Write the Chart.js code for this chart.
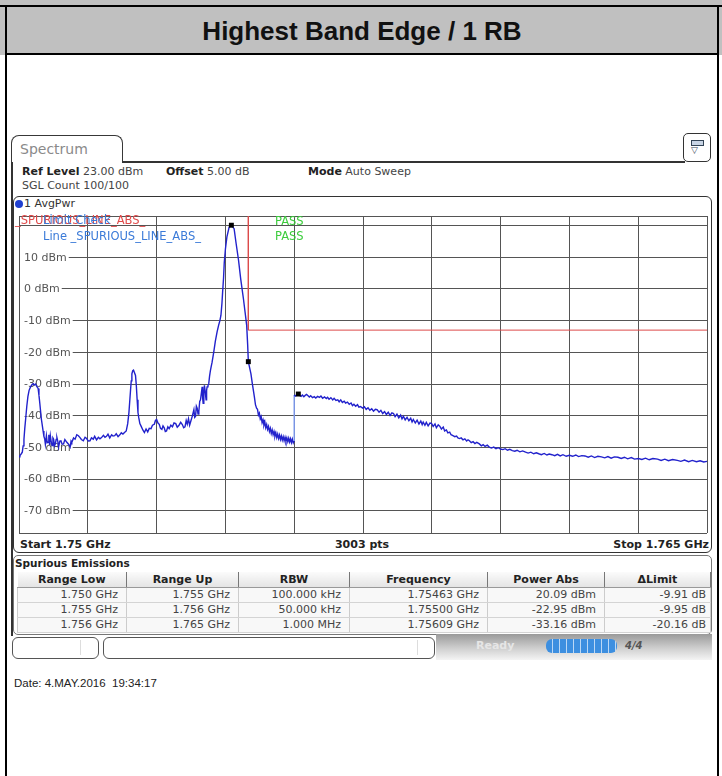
<!DOCTYPE html>
<html>
<head>
<meta charset="utf-8">
<script src="https://cdn.jsdelivr.net/npm/chart.js@4"></script>
<style>
body { margin: 0; width: 722px; height: 776px; position: relative; overflow: hidden; background: #fff; font-family: "DejaVu Sans", sans-serif; }
.a { position: absolute; }
.blk { position: absolute; background: #000; }
.t11 { font-size: 11px; line-height: 14px; white-space: nowrap; }
.b { font-weight: bold; color: #222; }
.r { color: #444; }
#spur { position: absolute; left: 17px; top: 572px; border-collapse: collapse; table-layout: fixed; font-size: 11px; }
#spur th { height: 15px; padding: 0; font-weight: bold; color: #222; background: linear-gradient(#fbfbfb, #e4e4e4); border-right: 1px solid #777; border-bottom: 1px solid #999; line-height: 14px; }
#spur td { height: 14px; padding: 0 8px 0 0; text-align: right; color: #444; background: #f8f8f8; border-right: 1px solid #ccc; border-bottom: 1px solid #d4d4d4; line-height: 14px; white-space: nowrap; }
#spur td:first-child { border-left: 1px solid #ccc; }
.box { position: absolute; border: 1px solid #555; border-radius: 6px; background: #fff; }
</style>
</head>
<body>
<!-- table cell around the screenshot -->
<div class="a" style="left:0;top:0;width:722px;height:55px;background:#c0c0c0"></div>
<div class="blk" style="left:0;top:5px;width:722px;height:2px"></div>
<div class="blk" style="left:5px;top:53px;width:714px;height:2px"></div>
<div class="a" style="left:5px;top:55px;width:712px;height:721px;background:#fff"></div>
<div class="blk" style="left:5px;top:5px;width:2px;height:771px"></div>
<div class="blk" style="left:717px;top:5px;width:2px;height:771px"></div>
<div class="a" style="left:7px;top:16px;width:710px;text-align:center;font:bold 26px/30px 'Liberation Sans',Arial,sans-serif;color:#111">Highest Band Edge / 1 RB</div>

<!-- analyzer window -->
<div class="a" style="left:11px;top:135px;width:110px;height:27px;border:1.5px solid #383838;border-bottom:none;border-radius:8px 8px 0 0"></div>
<div class="a" style="left:20px;top:141px;font-size:14px;line-height:16px;color:#8a8a8a">Spectrum</div>
<div class="a" style="left:122px;top:161px;width:563px;height:1.5px;background:#333"></div>
<div class="a" style="left:11px;top:162px;width:1.5px;height:474px;background:#333"></div>
<div class="a" style="left:683px;top:133px;width:26px;height:27px;border:1.5px solid #333;border-radius:5px;background:#fff"></div>
<div class="a" style="left:691px;top:140px;width:11px;height:4px;border:1px solid #345;background:#c8d4e4"></div>
<div class="a" style="left:691px;top:145px;font-size:9px;line-height:10px;color:#345">&#9661;</div>

<div class="a t11" style="left:22px;top:165px"><span class="b">Ref Level</span> <span class="r">23.00 dBm</span></div>
<div class="a t11" style="left:166px;top:165px"><span class="b">Offset</span> <span class="r">5.00 dB</span></div>
<div class="a t11" style="left:308px;top:165px"><span class="b">Mode</span> <span class="r">Auto Sweep</span></div>
<div class="a t11 r" style="left:22px;top:179px">SGL Count 100/100</div>

<div class="a" style="left:13px;top:196px;width:697px;height:355px;border:1.5px solid #333;border-radius:6px;background:#fff"></div>
<div class="a" style="left:15px;top:200px;width:8px;height:8px;border-radius:50%;background:#1f3fd0"></div>
<div class="a t11" style="left:24px;top:197px;color:#333">1 AvgPwr</div>

<canvas id="plot" class="a" style="left:15px;top:212px" width="696" height="325"></canvas>

<div class="a" style="left:15px;top:213px;font-size:11.5px;line-height:14px;color:#e04a4a;white-space:nowrap">_SPURIOUS_LINE_ABS_</div>
<div class="a" style="left:43px;top:213px;font-size:11.5px;line-height:14px;color:#3a7ad8;white-space:nowrap">Limit Check</div>
<div class="a" style="left:43px;top:229px;font-size:11.5px;line-height:14px;color:#3a7ad8;white-space:nowrap">Line _SPURIOUS_LINE_ABS_</div>
<div class="a" style="left:275px;top:214px;font-size:11.5px;line-height:14px;color:#3ccc3c">PASS</div>
<div class="a" style="left:275px;top:229px;font-size:11.5px;line-height:14px;color:#3ccc3c">PASS</div>

<div class="a t11 b" style="left:20px;top:538px">Start 1.75 GHz</div>
<div class="a t11 b" style="left:262px;top:538px;width:200px;text-align:center">3003 pts</div>
<div class="a t11 b" style="left:509px;top:538px;width:200px;text-align:right">Stop 1.765 GHz</div>

<div class="a" style="left:13px;top:555px;width:697px;height:78px;border:1px solid #777;border-radius:5px;background:#fff"></div>
<div class="a t11 b" style="left:15px;top:556px;font-size:10.5px">Spurious Emissions</div>
<table id="spur"></table>

<!-- status bar -->
<div class="a" style="left:436px;top:634px;width:276px;height:26px;background:linear-gradient(#9a9a9a,#cfcfcf 55%,#f4f4f4)"></div>
<div class="box" style="left:12px;top:637px;width:85px;height:20px"></div>
<div class="a" style="left:80px;top:640px;width:1px;height:15px;background:#ddd"></div>
<div class="box" style="left:103px;top:637px;width:330px;height:20px"></div>
<div class="a" style="left:417px;top:640px;width:1px;height:15px;background:#ddd"></div>
<div class="a t11" style="left:476px;top:639px;color:#e6e6e6;font-weight:bold">Ready</div>
<div class="a" style="left:546px;top:639px;width:71px;height:14px;border-radius:6px;background:repeating-linear-gradient(90deg,#3d8fe0 0 6px,#bcd8f5 6px 7px)"></div>
<div class="a" style="left:625px;top:639px;font:bold italic 10px/14px 'DejaVu Sans';color:#555">4/4</div>

<div class="a" style="left:14px;top:676px;font:11.5px/14px 'Liberation Sans',Arial,sans-serif;color:#222;white-space:pre">Date: 4.MAY.2016  19:34:17</div>

<script>
var startGHz = 1.75;
var stopGHz = 1.765;
var refLevel = 23;
var bottomLevel = -77;
var gridFreqGHz = [1.75, 1.7515, 1.753, 1.7545, 1.756, 1.7575, 1.759, 1.7605, 1.762, 1.7635, 1.765];
var gridLevels = [23, 20, 10, 0, -10, -20, -30, -40, -50, -60, -70, -77];
var yLabelLevels = [10, 0, -10, -20, -30, -40, -50, -60, -70];
var yLabels = ['10 dBm', '0 dBm', '-10 dBm', '-20 dBm', '-30 dBm', '-40 dBm', '-50 dBm', '-60 dBm', '-70 dBm'];

// trace, offset from start in MHz / level in dBm
var traceOffsetMHz = [
  0.00, 0.02, 0.05, 0.072, 0.09, 0.108, 0.126, 0.144, 0.17, 0.194,
  0.22, 0.252, 0.28, 0.309, 0.335, 0.36, 0.39, 0.417, 0.435, 0.453,
  0.47, 0.489, 0.507, 0.525, 0.543, 0.561, 0.575, 0.597, 0.615, 0.633,
  0.65, 0.665, 0.683, 0.70, 0.72, 0.74, 0.755, 0.773, 0.791, 0.81,
  0.827, 0.845, 0.863, 0.89, 0.914, 0.94, 0.971, 1.00, 1.043, 1.08,
  1.115, 1.135, 1.151, 1.19, 1.223, 1.26, 1.295, 1.331, 1.36, 1.403,
  1.44, 1.475, 1.51, 1.547, 1.58, 1.619, 1.65, 1.691, 1.73, 1.765,
  1.799, 1.84, 1.875, 1.907, 1.94, 1.979, 2.02, 2.05, 2.086, 2.12,
  2.16, 2.194, 2.23, 2.266, 2.30, 2.338, 2.37, 2.396, 2.414, 2.432,
  2.447, 2.461, 2.48, 2.497, 2.52, 2.54, 2.558, 2.576, 2.594, 2.612,
  2.635, 2.662, 2.70, 2.734, 2.77, 2.806, 2.84, 2.878, 2.91, 2.95,
  2.975, 3.0, 3.03, 3.058, 3.085, 3.115, 3.14, 3.166, 3.19, 3.216,
  3.245, 3.274, 3.31, 3.346, 3.38, 3.417, 3.45, 3.489, 3.525, 3.561,
  3.59, 3.619, 3.645, 3.669, 3.695, 3.72, 3.75, 3.777, 3.813, 3.83,
  3.849, 3.867, 3.885, 3.903, 3.921, 3.94, 3.957, 3.975, 3.993, 4.004,
  4.015, 4.03, 4.043, 4.06, 4.079, 4.09, 4.101, 4.12, 4.137, 4.155,
  4.173, 4.19, 4.209, 4.245, 4.281, 4.32, 4.353, 4.38, 4.403, 4.425,
  4.439, 4.46, 4.475, 4.50, 4.533, 4.582, 4.63, 4.69, 4.733, 4.785,
  4.835, 4.893, 4.928, 4.964, 4.985, 5.0, 5.03, 5.057, 5.087, 5.11,
  5.131, 5.155, 5.18,
  5.20, 5.22, 5.24, 5.26, 5.28, 5.30, 5.32, 5.34, 5.36, 5.38,
  5.40, 5.42, 5.44, 5.46, 5.48, 5.50, 5.52, 5.54, 5.56, 5.58,
  5.60, 5.62, 5.64, 5.66, 5.68, 5.70, 5.72, 5.74, 5.76, 5.78,
  5.80, 5.82, 5.84, 5.86, 5.88, 5.90, 5.92, 5.94, 5.96, 5.98,
  6.0, 6.0, 6.03, 6.06, 6.09, 6.12, 6.151,
  6.18, 6.21, 6.24, 6.27, 6.296, 6.33, 6.36, 6.40, 6.439, 6.47,
  6.51, 6.55, 6.583, 6.62, 6.66, 6.70, 6.728, 6.76, 6.80, 6.84,
  6.87, 6.91, 6.95, 6.98, 7.015, 7.05, 7.09, 7.12, 7.16, 7.20,
  7.24, 7.27, 7.302, 7.34, 7.38, 7.41, 7.447, 7.49, 7.53, 7.57,
  7.61, 7.65, 7.69, 7.73, 7.77, 7.807, 7.85, 7.89, 7.93, 7.97,
  8.01, 8.05, 8.09, 8.13, 8.165, 8.20, 8.24, 8.28, 8.32, 8.35,
  8.381, 8.42, 8.46, 8.50, 8.54, 8.57, 8.597, 8.64, 8.68, 8.72,
  8.76, 8.79, 8.813, 8.85, 8.88, 8.92, 8.96, 8.994, 9.03, 9.07,
  9.10, 9.14, 9.173, 9.21, 9.25, 9.28, 9.318, 9.35, 9.39, 9.42,
  9.461, 9.50, 9.54, 9.57, 9.605, 9.64, 9.68, 9.72, 9.76, 9.79,
  9.821, 9.86, 9.90, 9.94, 9.98, 10.037, 10.08, 10.12, 10.16, 10.21,
  10.253, 10.30, 10.35, 10.40, 10.45, 10.497, 10.55, 10.60, 10.65, 10.70,
  10.756, 10.81, 10.86, 10.92, 10.98, 11.045, 11.10, 11.16, 11.22, 11.28,
  11.332, 11.39, 11.45, 11.51, 11.56, 11.619, 11.68, 11.74, 11.80, 11.86,
  11.93, 12.001, 12.07, 12.14, 12.20, 12.27, 12.34, 12.41, 12.48, 12.55,
  12.62, 12.698, 12.77, 12.84, 12.91, 12.98, 13.058, 13.13, 13.20, 13.27,
  13.35, 13.42, 13.505, 13.58, 13.66, 13.74, 13.82, 13.922, 14.00, 14.08,
  14.16, 14.25, 14.353, 14.43, 14.51, 14.60, 14.68, 14.77, 14.85, 14.93,
  15.0
];
var traceLevel = [
  -53.0, -52.6, -52.0, -51.5, -49.5, -47.4, -44.0, -41.2, -37.0, -34.0,
  -32.0, -30.9, -30.2, -29.9, -30.3, -30.0, -30.8, -31.4, -33.5, -36.0,
  -38.5, -41.2, -43.0, -44.8, -46.5, -47.4, -49.0, -46.3, -48.5, -48.4,
  -46.0, -49.2, -46.3, -48.0, -49.4, -47.0, -47.4, -49.5, -48.9, -47.5,
  -46.9, -48.0, -49.9, -48.0, -47.9, -49.0, -48.9, -47.5, -48.4, -49.0,
  -49.9, -48.0, -48.4, -47.0, -47.4, -46.0, -46.3, -46.9, -47.5, -47.9,
  -46.8, -47.2, -48.0, -47.9, -47.0, -47.4, -46.5, -47.6, -46.8, -47.3,
  -46.9, -46.2, -46.8, -46.5, -45.8, -47.0, -46.0, -46.4, -46.3, -45.7,
  -46.6, -46.1, -45.4, -45.8, -45.3, -44.8, -42.5, -39.1, -35.5, -31.9,
  -29.0, -26.8, -25.8, -25.6, -26.5, -27.3, -30.5, -35.0, -39.0, -40.7,
  -42.5, -43.3, -44.5, -45.3, -44.2, -45.1, -44.0, -44.1, -43.0, -42.7,
  -41.5, -41.2, -42.3, -42.7, -44.0, -44.3, -43.2, -43.8, -45.0, -44.8,
  -43.5, -44.1, -43.0, -43.5, -42.3, -42.5, -43.6, -43.0, -42.1, -42.8,
  -43.8, -43.5, -41.5, -42.7, -41.0, -43.0, -41.5, -40.2, -38.1, -40.5,
  -40.2, -37.0, -37.6, -39.5, -38.6, -35.5, -35.0, -33.0, -30.9, -34.5,
  -36.1, -33.0, -30.4, -32.5, -35.0, -32.0, -30.9, -30.5, -29.9, -27.5,
  -25.8, -24.5, -23.2, -20.0, -16.5, -13.5, -11.4, -10.0, -8.3, -4.5,
  -1.1, 3.5, 8.2, 12.5, 16.4, 19.5, 20.09, 19.0, 14.4, 9.2,
  3.0, -3.1, -7.2, -11.5, -17.5, -22.95, -25.0, -26.8, -29.9, -32.0,
  -34.0, -36.5, -37.6,
  -38.0, -39.8, -39.2, -41.0, -40.3, -42.2, -41.3, -43.0, -42.0, -43.8,
  -42.8, -44.3, -43.4, -45.0, -44.0, -45.6, -44.5, -46.0, -45.0, -46.5,
  -45.4, -46.9, -45.8, -47.2, -46.1, -47.5, -46.4, -47.7, -46.6, -47.9,
  -46.8, -48.1, -47.0, -48.2, -47.1, -48.3, -47.3, -48.5, -47.4, -48.6,
  -48.0, -33.5, -33.8, -33.3, -33.16, -33.6, -33.9,
  -33.5, -34.0, -33.6, -33.3, -33.6, -34.1, -33.7, -34.3, -34.0, -34.4,
  -33.9, -34.2, -33.8, -34.5, -34.1, -34.6, -34.2, -34.8, -34.3, -35.0,
  -34.5, -35.2, -35.0, -35.6, -35.0, -35.8, -35.4, -36.0, -35.7, -36.4,
  -36.0, -36.8, -36.4, -37.0, -36.5, -37.3, -37.1, -37.6, -37.2, -38.0,
  -37.5, -38.3, -37.8, -38.6, -38.0, -38.1, -38.9, -38.3, -39.3, -38.7,
  -39.6, -38.9, -39.9, -39.1, -39.3, -40.3, -39.5, -40.7, -39.8, -41.0,
  -40.2, -41.3, -40.5, -41.6, -40.8, -42.0, -41.2, -42.3, -41.4, -42.6,
  -41.7, -42.8, -42.0, -43.0, -42.1, -43.2, -42.3, -42.4, -43.4, -42.6,
  -43.8, -42.9, -43.3, -44.2, -43.6, -44.8, -44.5, -45.4, -45.2, -46.0,
  -46.3, -46.6, -46.4, -47.0, -47.2, -47.0, -47.6, -47.3, -48.0, -47.6,
  -47.9, -48.5, -48.2, -48.8, -48.4, -48.9, -49.5, -49.1, -49.7, -49.3,
  -49.9, -50.2, -49.9, -50.4, -50.1, -50.5, -50.7, -50.4, -50.9, -50.6,
  -51.0, -51.2, -50.9, -51.4, -51.1, -51.5, -51.8, -51.5, -52.0, -51.7,
  -52.0, -52.3, -51.9, -52.4, -52.1, -52.3, -52.6, -52.2, -52.7, -52.3,
  -52.8, -52.5, -52.8, -52.4, -52.9, -52.6, -52.7, -53.1, -52.7, -53.2,
  -52.8, -53.0, -53.3, -52.9, -53.4, -53.0, -53.1, -53.5, -53.1, -53.6,
  -53.2, -53.7, -53.5, -53.8, -53.4, -53.9, -53.5, -53.7, -54.1, -53.7,
  -54.2, -53.8, -54.1, -54.4, -54.0, -54.5, -54.1, -54.5, -54.2, -54.6,
  -54.4
];

var limitGHz = [1.750, 1.755, 1.755, 1.765];
var limitLevel = [30, 30, -13, -13];
var markerGHz = [1.75463, 1.75500, 1.75609];
var markerLevel = [20.09, -22.95, -33.16];

var rangeLow = ['1.750 GHz', '1.755 GHz', '1.756 GHz'];
var rangeUp = ['1.755 GHz', '1.756 GHz', '1.765 GHz'];
var rbw = ['100.000 kHz', '50.000 kHz', '1.000 MHz'];
var peakFreq = ['1.75463 GHz', '1.75500 GHz', '1.75609 GHz'];
var powerAbs = ['20.09 dBm', '-22.95 dBm', '-33.16 dBm'];
var deltaLimit = ['-9.91 dB', '-9.95 dB', '-20.16 dB'];
var colHeads = ['Range Low', 'Range Up', 'RBW', 'Frequency', 'Power Abs', '\u0394Limit'];
var colWidths = [109, 112, 111, 138, 117, 106];

// spurious emissions table
var tbl = document.getElementById('spur');
var html = '<colgroup>';
colWidths.forEach(function(w) { html += '<col style="width:' + w + 'px">'; });
html += '</colgroup><tr>';
colHeads.forEach(function(h) { html += '<th>' + h + '</th>'; });
html += '</tr>';
for (var i = 0; i < rangeLow.length; i++) {
  html += '<tr><td>' + rangeLow[i] + '</td><td>' + rangeUp[i] + '</td><td>' + rbw[i] + '</td><td>' +
    peakFreq[i] + '</td><td>' + powerAbs[i] + '</td><td style="padding-right:4px">' + deltaLimit[i] + '</td></tr>';
}
tbl.innerHTML = html;

var trace = traceOffsetMHz.map(function(f, i) { return { x: startGHz + f / 1000, y: traceLevel[i] }; });
var limit = limitGHz.map(function(f, i) { return { x: f, y: limitLevel[i] }; });
var markers = markerGHz.map(function(f, i) { return { x: f, y: markerLevel[i] }; });

// dBm labels sit inside the diagram on a white patch, under the trace
var dbmLabels = {
  id: 'dbmLabels',
  beforeDatasetsDraw: function(chart) {
    var ctx = chart.ctx;
    var ys = chart.scales.y;
    var left = chart.chartArea.left;
    ctx.save();
    ctx.font = '11px "DejaVu Sans"';
    ctx.textBaseline = 'middle';
    for (var i = 0; i < yLabelLevels.length; i++) {
      var py = ys.getPixelForValue(yLabelLevels[i]);
      var w = ctx.measureText(yLabels[i]).width;
      ctx.fillStyle = '#fff';
      ctx.fillRect(left + 1, py - 6, w + 6, 12);
      ctx.fillStyle = '#555';
      ctx.fillText(yLabels[i], left + 5, py + 0.5);
    }
    ctx.restore();
  }
};

new Chart(document.getElementById('plot'), {
  type: 'line',
  data: {
    datasets: [{
      data: limit,
      borderColor: '#dd4b4b',
      borderWidth: 1,
      pointRadius: 0,
      order: 3
    }, {
      data: trace,
      borderColor: '#2222cc',
      borderWidth: 1.4,
      pointRadius: 0,
      segment: {
        borderColor: function(c) { return c.p0.parsed.x === c.p1.parsed.x ? '#7f9cf2' : undefined; }
      },
      order: 2
    }, {
      type: 'scatter',
      data: markers,
      pointStyle: 'rect',
      pointRadius: 3.5,
      pointBorderWidth: 0,
      backgroundColor: '#000',
      order: 1
    }]
  },
  options: {
    responsive: false,
    animation: false,
    events: [],
    layout: { padding: { right: 1, bottom: 1 } },
    plugins: { legend: { display: false }, tooltip: { enabled: false } },
    scales: {
      x: {
        type: 'linear',
        min: startGHz,
        max: stopGHz,
        afterBuildTicks: function(s) { s.ticks = gridFreqGHz.map(function(v) { return { value: v }; }); },
        ticks: { display: false },
        grid: { color: '#555', drawTicks: false },
        border: { display: false }
      },
      y: {
        type: 'linear',
        min: bottomLevel,
        max: refLevel,
        afterBuildTicks: function(s) { s.ticks = gridLevels.map(function(v) { return { value: v }; }); },
        ticks: { display: false },
        grid: { color: '#555', drawTicks: false },
        border: { display: false }
      }
    }
  },
  plugins: [dbmLabels]
});
</script>
</body>
</html>
